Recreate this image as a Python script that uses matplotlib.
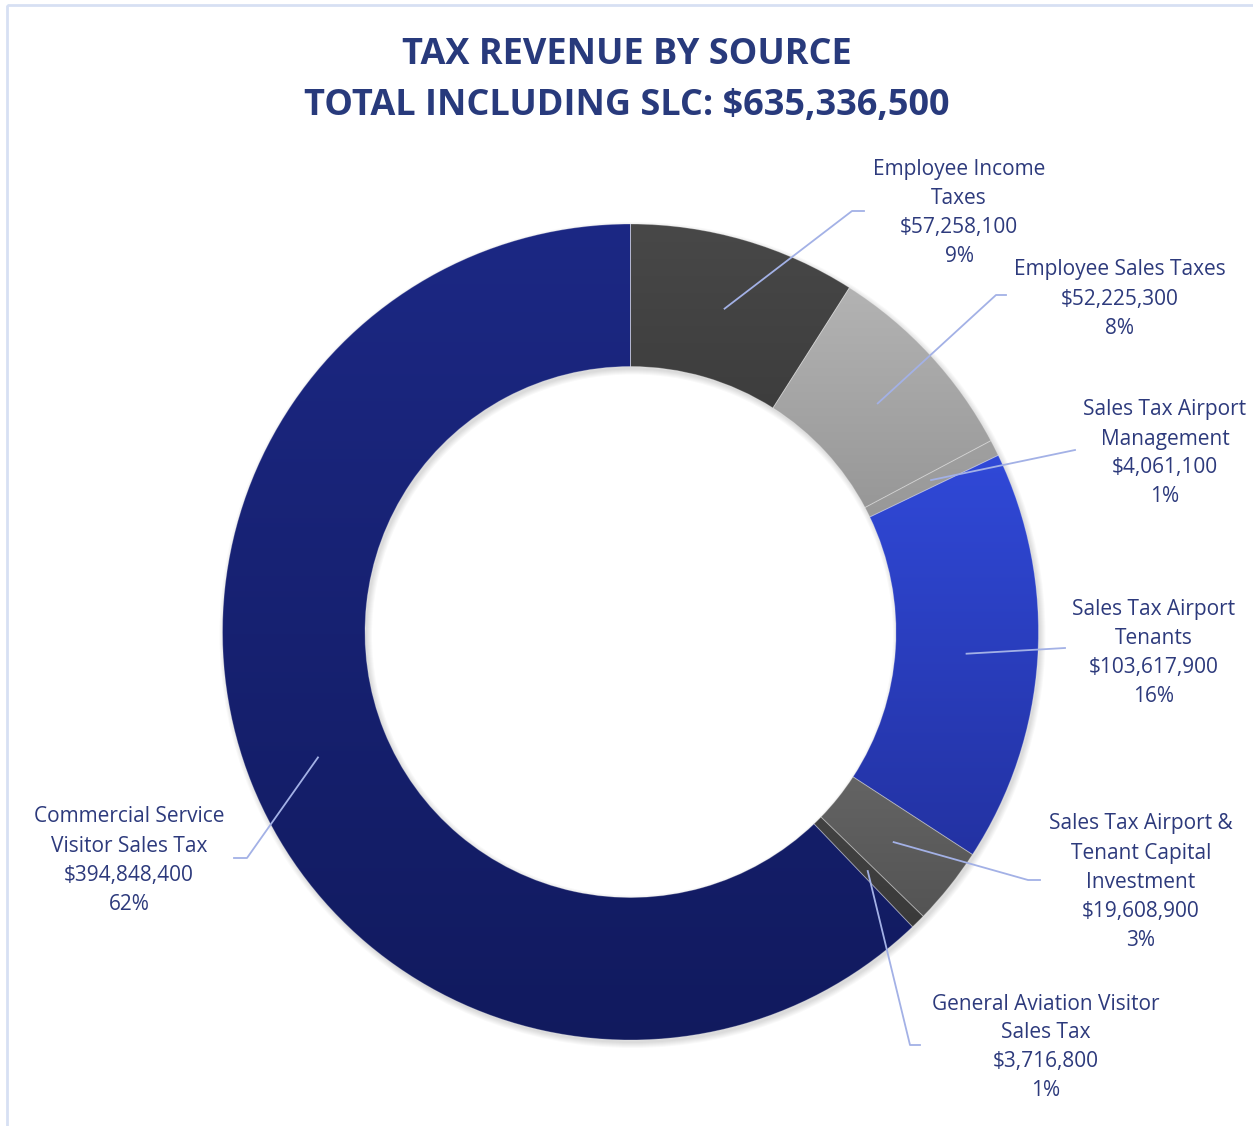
import matplotlib.pyplot as plt
import numpy as np
from matplotlib.colors import to_rgb
from matplotlib.patches import Rectangle, Wedge

# data, clockwise from 12 o'clock
categories = [
    "Employee Income Taxes",
    "Employee Sales Taxes",
    "Sales Tax Airport Management",
    "Sales Tax Airport Tenants",
    "Sales Tax Airport & Tenant Capital Investment",
    "General Aviation Visitor Sales Tax",
    "Commercial Service Visitor Sales Tax",
]
values = [57258100, 52225300, 4061100, 103617900, 19608900, 3716800, 394848400]
label_lines = [
    ["Employee Income", "Taxes"],
    ["Employee Sales Taxes"],
    ["Sales Tax Airport", "Management"],
    ["Sales Tax Airport", "Tenants"],
    ["Sales Tax Airport &", "Tenant Capital", "Investment"],
    ["General Aviation Visitor", "Sales Tax"],
    ["Commercial Service", "Visitor Sales Tax"],
]
title_lines = ["TAX REVENUE BY SOURCE", "TOTAL INCLUDING SLC: $635,336,500"]

# gradient colours (top, bottom) per slice
top_colors = ["#484848", "#b3b3b3", "#a0a0a0", "#3049d8", "#747474", "#505050", "#1c2884"]
bottom_colors = ["#303030", "#888888", "#8c8c8c", "#2332a2", "#545454", "#3a3a3a", "#111a5e"]

# layout in pixels (y down)
W, H = 1253, 1126
cx, cy = 630.5, 632
r_out, r_in = 408, 265.5
label_x = [959, 1120, 1165, 1154, 1141, 1046, 129]
label_y0 = [170, 270, 410, 609, 824, 1004, 817]
leader_pts = [
    [(852, 211), (864, 211)],
    [(996, 295), (1006, 295)],
    [(1075, 450)],
    [(1065, 648)],
    [(1028, 880), (1040, 880)],
    [(910, 1045), (920, 1045)],
    [(247, 858), (234, 858)],
]
line_step = 29

text_color = "#2d3a7c"
leader_color = "#a3b1e6"
plt.rcParams["font.family"] = ["Open Sans", "DejaVu Sans"]

fig = plt.figure(figsize=(W / 100, H / 100), dpi=100)
ax = fig.add_axes([0, 0, 1, 1])

# y axis runs downward, so start at -90 and go "counterclock" to look clockwise
wedges, _ = ax.pie(
    values,
    center=(cx, cy),
    radius=r_out,
    startangle=-90,
    counterclock=True,
    wedgeprops=dict(width=r_out - r_in, facecolor="none", edgecolor=(1, 1, 1, 0.25), linewidth=0.7),
)

# soft shadow under the ring
for k in range(6):
    ring = Wedge(
        (cx + 2, cy + 3), r_out + k, 0, 360, width=r_out - r_in + 2 * k,
        facecolor="black", alpha=0.022, linewidth=0, zorder=-1,
    )
    ax.add_patch(ring)

# fill each wedge with a vertical gradient
for w, c0, c1 in zip(wedges, top_colors, bottom_colors):
    verts = w.get_path().vertices
    x0, x1 = verts[:, 0].min(), verts[:, 0].max()
    y0, y1 = verts[:, 1].min(), verts[:, 1].max()
    t = np.linspace(0, 1, 256)[:, None, None]
    grad = (1 - t) * np.array(to_rgb(c0)) + t * np.array(to_rgb(c1))
    grad = np.repeat(grad, 2, axis=1)
    im = ax.imshow(grad, extent=(x0, x1, y1, y0), origin="upper", interpolation="bilinear", zorder=0.5)
    im.set_clip_path(w)

# labels and leader lines
total = sum(values)
r_mid = (r_out + r_in) / 2
for i, w in enumerate(wedges):
    lines = label_lines[i] + [f"${values[i]:,}", f"{values[i] / total:.0%}"]
    for j, s in enumerate(lines):
        ax.text(label_x[i], label_y0[i] + j * line_step, s, ha="center", va="center",
                fontsize=15, color=text_color)
    mid = np.deg2rad((w.theta1 + w.theta2) / 2)
    ax_pt = (cx + r_mid * np.cos(mid), cy + r_mid * np.sin(mid))
    pts = [ax_pt] + leader_pts[i]
    ax.plot([p[0] for p in pts], [p[1] for p in pts], color=leader_color, lw=1.3, zorder=3)

for j, s in enumerate(title_lines):
    ax.text(W / 2 + 0.5, 55 + j * 51, s, ha="center", va="center",
            fontsize=26, fontweight="bold", color="#283a7c")

# chart border (only top and left visible)
ax.add_patch(Rectangle((7, 4.5), 1400, 1400, facecolor="none", edgecolor="#d7e0f3", lw=2))

ax.set_xlim(0, W)
ax.set_ylim(H, 0)
ax.set_aspect("equal")
ax.axis("off")

fig.savefig("out.png", dpi=100)
